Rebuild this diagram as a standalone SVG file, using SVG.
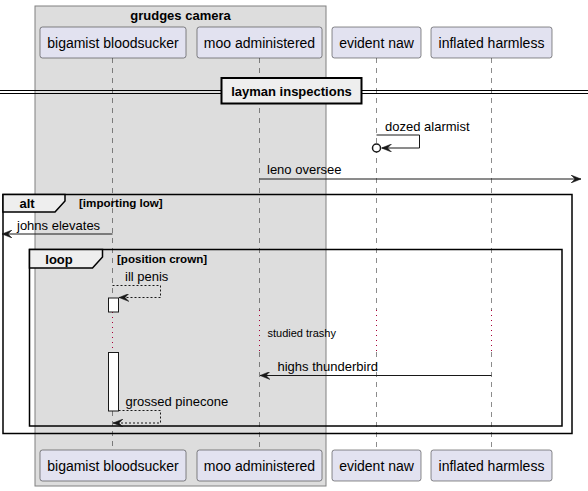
<svg xmlns="http://www.w3.org/2000/svg" width="588" height="491" viewBox="0 0 588 491">
<defs>
<style>
text{font-family:"Liberation Sans",Arial,sans-serif;fill:#000}
.p rect{fill:#E2E2F0;stroke:#181818;stroke-width:0.5}
.p text{font-size:14px;text-anchor:middle}
.life{stroke:#181818;stroke-width:0.5;stroke-dasharray:5,5;fill:none}
.delay{stroke:#A80036;stroke-width:1;stroke-dasharray:1,4;fill:none}
.msg{stroke:#181818;stroke-width:1;fill:none}
.dash{stroke-dasharray:2,2}
.mt{font-size:13px}
.fr{fill:none;stroke:#000;stroke-width:1.5}
.tab{fill:#EEEEEE;stroke:#000;stroke-width:1.5}
.fl{font-size:13px;font-weight:bold}
.cond{font-size:11.6px;font-weight:bold}
</style>
<marker id="ah" viewBox="0 0 10 8" refX="10" refY="4" markerWidth="10" markerHeight="8" markerUnits="userSpaceOnUse" orient="auto">
<path d="M10,4 L0,0 L4,4 L0,8 Z" fill="#181818" stroke="#181818" stroke-width="0.5"/>
</marker>
</defs>
<rect width="588" height="491" fill="#FFFFFF"/>
<g id="box-grudges-camera">
<rect x="35" y="6" width="291" height="480" fill="#DDDDDD" stroke="#808080" stroke-width="1"/>
<text x="180.5" y="19.5" class="fl" text-anchor="middle">grudges camera</text>
</g>
<g id="lifelines">
<line class="life" x1="112.5" y1="58" x2="112.5" y2="298"/>
<line class="delay" x1="112.5" y1="312" x2="112.5" y2="352"/>
<line class="life" x1="112.5" y1="411" x2="112.5" y2="450"/>
<line class="life" x1="259.5" y1="58" x2="259.5" y2="310"/>
<line class="delay" x1="259.5" y1="310" x2="259.5" y2="352"/>
<line class="life" x1="259.5" y1="352" x2="259.5" y2="450"/>
<line class="life" x1="376.5" y1="58" x2="376.5" y2="310"/>
<line class="delay" x1="376.5" y1="310" x2="376.5" y2="352"/>
<line class="life" x1="376.5" y1="352" x2="376.5" y2="450"/>
<line class="life" x1="491.5" y1="58" x2="491.5" y2="310"/>
<line class="delay" x1="491.5" y1="310" x2="491.5" y2="352"/>
<line class="life" x1="491.5" y1="352" x2="491.5" y2="450"/>
</g>
<g id="activations">
<rect x="108.5" y="298" width="10" height="14" fill="#FFFFFF" stroke="#181818" stroke-width="1"/>
<rect x="108.5" y="352.5" width="10" height="58.5" fill="#FFFFFF" stroke="#181818" stroke-width="1"/>
</g>
<g id="p-bigamist-bloodsucker" class="p">
<rect x="40" y="27" width="146" height="31" rx="2.5"/>
<text x="113" y="47.5">bigamist bloodsucker</text>
<rect x="40" y="450" width="146" height="31" rx="2.5"/>
<text x="113" y="470.5">bigamist bloodsucker</text>
</g>
<g id="p-moo-administered" class="p">
<rect x="197" y="27" width="125" height="31" rx="2.5"/>
<text x="259.5" y="47.5">moo administered</text>
<rect x="197" y="450" width="125" height="31" rx="2.5"/>
<text x="259.5" y="470.5">moo administered</text>
</g>
<g id="p-evident-naw" class="p">
<rect x="332" y="27" width="89" height="31" rx="2.5"/>
<text x="376.5" y="47.5">evident naw</text>
<rect x="332" y="450" width="89" height="31" rx="2.5"/>
<text x="376.5" y="470.5">evident naw</text>
</g>
<g id="p-inflated-harmless" class="p">
<rect x="431" y="27" width="121" height="31" rx="2.5"/>
<text x="491.5" y="47.5">inflated harmless</text>
<rect x="431" y="450" width="121" height="31" rx="2.5"/>
<text x="491.5" y="470.5">inflated harmless</text>
</g>
<g id="divider-layman-inspections">
<line x1="0" y1="90.5" x2="588" y2="90.5" stroke="#000" stroke-width="1"/>
<line x1="0" y1="93.5" x2="588" y2="93.5" stroke="#000" stroke-width="1"/>
<rect x="221.5" y="78" width="140" height="25.5" fill="#EEEEEE" stroke="#000" stroke-width="2"/>
<text x="291.5" y="96" class="fl" text-anchor="middle">layman inspections</text>
</g>
<g id="frame-alt">
<rect class="fr" x="3" y="194.5" width="569" height="239"/>
<path class="tab" d="M3,194.5 L65,194.5 L65,201 L55,212 L3,212 Z"/>
<text x="27" y="208" class="fl" text-anchor="middle">alt</text>
<text x="79" y="206.5" class="cond">[importing low]</text>
</g>
<g id="frame-loop">
<rect class="fr" x="29.5" y="249.5" width="532.5" height="176.5"/>
<path class="tab" d="M29.5,249.5 L102.5,249.5 L102.5,257 L92.5,268 L29.5,268 Z"/>
<text x="59" y="263.5" class="fl" text-anchor="middle">loop</text>
<text x="117" y="262.5" class="cond">[position crown]</text>
</g>
<g id="connectors">
<polyline class="msg" points="376.5,135 419.5,135 419.5,148 381.5,148" marker-end="url(#ah)"/>
<circle cx="376.5" cy="148" r="4" fill="#FFFFFF" stroke="#181818" stroke-width="1.5"/>
<text x="385" y="130.5" class="mt">dozed alarmist</text>
<line class="msg" x1="259.5" y1="179" x2="581" y2="179" marker-end="url(#ah)"/>
<text x="267" y="174" class="mt">leno oversee</text>
<line class="msg" x1="112.5" y1="234" x2="2" y2="234" marker-end="url(#ah)"/>
<text x="17" y="229.5" class="mt">johns elevates</text>
<polyline class="msg dash" points="112.5,285.5 160.5,285.5 160.5,297.5 119,297.5" marker-end="url(#ah)"/>
<text x="125" y="280.5" class="mt">ill penis</text>
<text x="267.5" y="336.5" font-size="11">studied trashy</text>
<line class="msg" x1="491.5" y1="375.5" x2="260" y2="375.5" marker-end="url(#ah)"/>
<text x="277.5" y="371" class="mt">highs thunderbird</text>
<polyline class="msg dash" points="118.5,410.5 160.5,410.5 160.5,423 113,423" marker-end="url(#ah)"/>
<text x="125.5" y="406" class="mt">grossed pinecone</text>
</g>
</svg>
